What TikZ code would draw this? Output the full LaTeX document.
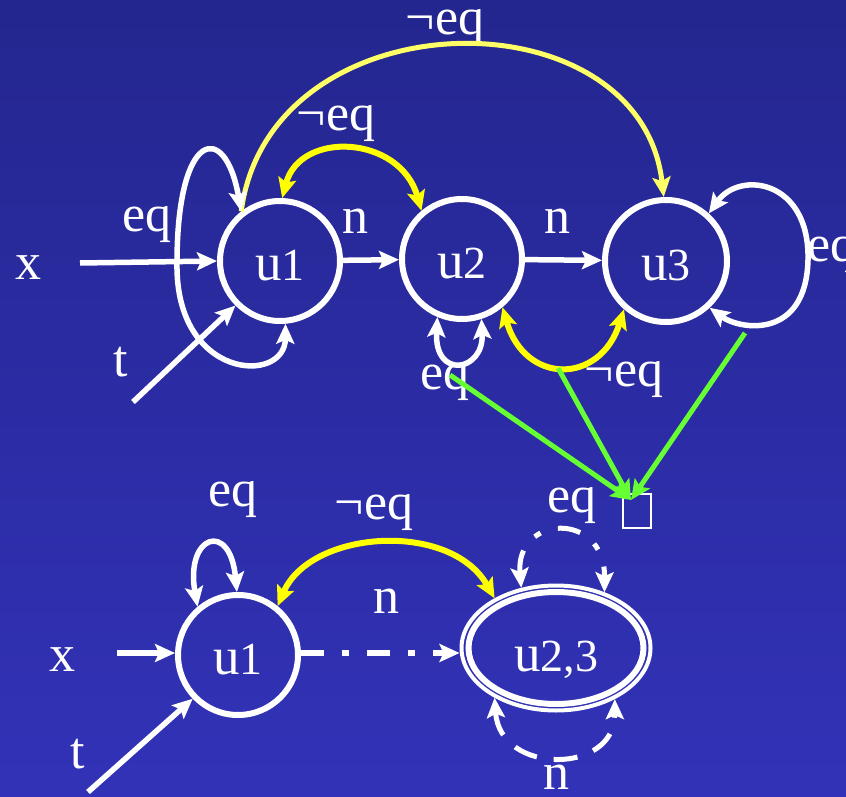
\documentclass[tikz,border=0pt]{standalone}
\usepackage{fontspec}
\setmainfont{Liberation Serif}
\usetikzlibrary{arrows.meta,shapes.geometric}
\definecolor{bgtop}{RGB}{36,38,143}
\definecolor{bgbot}{RGB}{50,50,184}
\definecolor{ylw}{RGB}{255,255,0}
\definecolor{paleylw}{RGB}{255,255,102}
\definecolor{grn}{RGB}{102,255,51}
\newcommand{\ufont}{\fontsize{53}{53}\selectfont}
\newcommand{\dfont}{\fontsize{46}{46}\selectfont}
\tikzset{
  state/.style={circle, draw=white, line width=6pt, minimum size=120pt, inner sep=0pt,
    text=white, text height=38pt, text depth=0pt},
  lbl/.style={text=white, inner sep=0pt, font=\fontsize{52}{52}\selectfont},
  wedge/.style={draw=white, line width=5.5pt},
  yedge/.style={draw=ylw, line width=6pt},
  pyedge/.style={draw=paleylw, line width=5pt},
  gedge/.style={draw=grn, line width=5pt},
  dashdot/.style={dash pattern=on 23pt off 18pt on 7pt off 18pt},
  longdash/.style={dash pattern=on 24pt off 17pt},
}
\begin{document}
\begin{tikzpicture}[x=1pt,y=-1pt,>={Stealth[length=20pt,width=18pt,inset=4pt]}]
\useasboundingbox (0,0) rectangle (846,797);
\fill[top color=bgtop, bottom color=bgbot] (0,0) rectangle (846,797);

% ---------- upper graph ----------
\node[state] (u1) at (280,261) {{\ufont u}{\dfont 1}};
\node[state] (u2) at (462,259) {{\ufont u}{\dfont 2}};
\node[state, minimum size=122pt] (u3) at (666,261) {{\ufont u}{\dfont 3}};

\coordinate (xs) at (80,263);
\coordinate (ts) at (133,402);

% labels
\node[lbl] (lNeqTop) at (445,28) {¬eq};
\node[lbl] (lNeq12) at (336,124) {¬eq};
\node[lbl] (lEq1) at (147,225) {eq};
\node[lbl] (lN12) at (355,221) {n};
\node[lbl] (lN23) at (557,221) {n};
\node[lbl] (lX) at (28,268) {x};
\node[lbl] (lT) at (121,362) {t};
\node[lbl] (lEq2) at (445,383) {eq};
\node[lbl] (lNeq23) at (624,380) {¬eq};
\node[lbl] (lEq3) at (832,255) {eq};

% big yellow arc
\draw[pyedge,->] (u1.128) .. controls (270,-5) and (640,-10) .. (u3.92);
% small yellow arcs
\draw[yedge,<->] (u1.88) .. controls (300,130) and (400,135) .. (u2.130);
\draw[yedge,<->] (u2.310) .. controls (525,385) and (600,385) .. (u3.229);

% white edges
\draw[wedge,->] (xs) -- (u1.west);
\draw[wedge,->] (ts) -- (u1.225);
\draw[wedge,<->] (u1.275) .. controls (285,385) and (175,380) .. (177,263)
                 .. controls (177,130) and (225,120) .. (u1.128);
\draw[wedge,->] (u1) -- (u2);
\draw[wedge,->] (u2) -- (u3);
\draw[wedge,<->] (u2.247) .. controls (434,380) and (484,372) .. (u2.288);
\draw[wedge,<->] (u3.48) .. controls (740,170) and (810,180) .. (808,260)
                 .. controls (806,340) and (740,330) .. (u3.313);

% ---------- lower graph ----------
\node[state] (u1L) at (238,655) {{\ufont u}{\dfont 1}};
\node[ellipse, draw=white, line width=4pt, minimum width=189pt, minimum height=125pt,
      inner sep=0pt, text=white, text height=46pt, text depth=0pt] (u23) at (556,648)
      {{\ufont u}{\dfont 2,3}};
\draw[white, line width=6pt] (u23.center) ellipse [x radius=87.5, y radius=56];

\coordinate (xsL) at (117,653);
\coordinate (tsL) at (88,792);

\node[lbl] (lEqL) at (233,500) {eq};
\node[lbl] (lNeqL) at (374,513) {¬eq};
\node[lbl] (lEqR) at (572,506) {eq};
\node[draw=white, line width=2pt, minimum width=28pt, minimum height=34pt, inner sep=0pt] (box) at (637,511) {};
\node[lbl] (lNL) at (386,601) {n};
\node[lbl] (lXL) at (62,660) {x};
\node[lbl] (lTL) at (78,754) {t};
\node[lbl] (lNB) at (556,777) {n};

\draw[wedge,->] (xsL) -- (xsL -| u1L.west);
\draw[wedge,->] (tsL) -- (u1L.224);
\draw[wedge,<->] (u1L.130) .. controls (185,535) and (230,520) .. (u1L.91);
\draw[yedge,<->] (u23.141) .. controls (450,520) and (310,530) .. (u1L.51);
\draw[wedge,line width=6pt,dashdot,->] (u1L.east |- 0,653) -- (u23.west |- 0,653);
\draw[wedge,line width=5pt,dashdot,<->] (u23.120) .. controls (515,515) and (605,510) .. (u23.49);
\draw[wedge,line width=5pt,longdash,<->] (u23.219) .. controls (500,775) and (615,775) .. (u23.319);

% ---------- green arrows ----------
\coordinate (g1) at (450,375);
\coordinate (g2) at (558,368);
\coordinate (g3) at (745,333);
\coordinate (gtip) at (631,500);
\draw[gedge,->] (g1) -- (gtip);
\draw[gedge,->] (g2) -- (gtip);
\draw[gedge,->] (g3) -- (gtip);
\end{tikzpicture}
\end{document}
